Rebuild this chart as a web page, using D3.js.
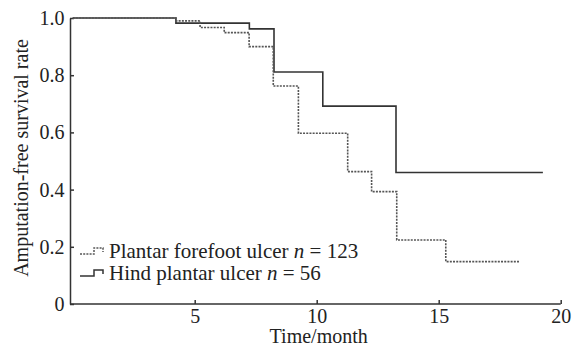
<!DOCTYPE html>
<html>
<head>
<meta charset="utf-8">
<script src="https://cdn.jsdelivr.net/npm/d3@7"></script>
<style>
  body { margin: 0; background: #fff; }
  svg text { font-family: "Liberation Serif", "Times New Roman", serif; fill: #222; }
</style>
</head>
<body>
<div id="chart"></div>
<script>
// Kaplan-Meier steps: [month, survival]
const forefoot = [[0, 1.0], [4.23, 0.99], [5.22, 0.967], [6.21, 0.949], [7.23, 0.90], [8.22, 0.762],
  [9.25, 0.597], [11.27, 0.463], [12.25, 0.393], [13.28, 0.224], [15.29, 0.148], [18.29, 0.148]];
const hind = [[0, 1.0], [4.23, 0.982], [7.24, 0.962], [8.25, 0.811], [10.25, 0.692], [13.25, 0.46], [19.27, 0.46]];
const xTicks = [5, 10, 15, 20];
const yTicks = [0, 0.2, 0.4, 0.6, 0.8, 1.0];
const legendLabels = [
  { name: 'Plantar forefoot ulcer ', n: '123', dashed: true },
  { name: 'Hind plantar ulcer ', n: '56', dashed: false }
];

const width = 576, height = 346;
const svg = d3.select('#chart').append('svg').attr('width', width).attr('height', height);

const x = d3.scaleLinear().domain([0, 20]).range([72.7, 560.7]);
const y = d3.scaleLinear().domain([0, 1]).range([304, 18]);

// axes, ticks pointing inward
const xAxis = svg.append('g').attr('transform', 'translate(0,304)')
  .call(d3.axisBottom(x).tickValues(xTicks).tickSize(-4).tickPadding(5).tickSizeOuter(0));
const yAxis = svg.append('g').attr('transform', 'translate(70,0)')
  .call(d3.axisLeft(y).tickValues(yTicks).tickSize(-4).tickPadding(5.5).tickSizeOuter(0)
    .tickFormat(d => d === 0 ? '0' : d3.format('.1f')(d)));

xAxis.select('.domain').attr('d', `M70,0H${x(20)}`);
[xAxis, yAxis].forEach(g => {
  g.selectAll('.domain, line').attr('stroke', '#333').attr('stroke-width', 1.5);
  g.selectAll('text').attr('font-size', '20px').attr('font-family', '"Liberation Serif", serif').attr('fill', '#222');
});

svg.append('text')
  .attr('x', x(10) + 2).attr('y', 343)
  .attr('text-anchor', 'middle').attr('font-size', '20px')
  .text('Time/month');

svg.append('text')
  .attr('transform', 'translate(28,158) rotate(-90)')
  .attr('text-anchor', 'middle').attr('font-size', '20px')
  .text('Amputation-free survival rate');

const line = d3.line().curve(d3.curveStepAfter).x(d => x(d[0])).y(d => y(d[1]));

svg.append('path').datum(hind)
  .attr('fill', 'none').attr('stroke', '#333').attr('stroke-width', 1.6)
  .attr('d', line);

svg.append('path').datum(forefoot)
  .attr('fill', 'none').attr('stroke', '#555').attr('stroke-width', 1.6)
  .attr('stroke-dasharray', '2,1.2')
  .attr('d', line);

// legend
const legend = svg.selectAll('.legend')
  .data(legendLabels)
  .enter().append('g')
  .attr('class', 'legend')
  .attr('transform', (d, i) => `translate(80,${251 + i * 22})`);

legend.append('path')
  .attr('fill', 'none')
  .attr('stroke', d => d.dashed ? '#555' : '#333')
  .attr('stroke-width', 1.5)
  .attr('stroke-dasharray', d => d.dashed ? '2,1.2' : null)
  .attr('d', 'M0,3H14V-3H23V1');

const lt = legend.append('text')
  .attr('x', 29).attr('y', 0).attr('dy', '0.35em')
  .attr('font-size', '21px');
lt.append('tspan').text(d => d.name);
lt.append('tspan').attr('font-style', 'italic').text('n');
lt.append('tspan').text(d => ' = ' + d.n);
</script>
</body>
</html>
